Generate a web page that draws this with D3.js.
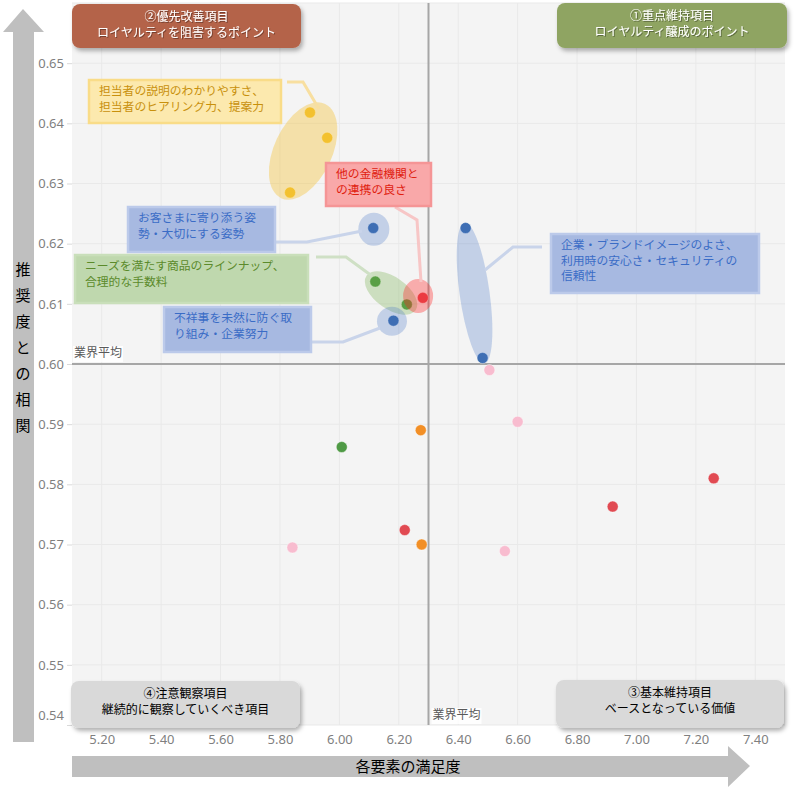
<!DOCTYPE html>
<html>
<head>
<meta charset="utf-8">
<script src="https://cdn.jsdelivr.net/npm/d3@7"></script>
<style>
body { margin: 0; background: #fff; }
text { font-family: "Noto Sans CJK JP", "Noto Sans", sans-serif; }
</style>
</head>
<body>
<svg id="chart" width="801" height="795"></svg>
<script>
// satisfaction (x) vs correlation with recommendation (y)

var xTicks = [5.2, 5.4, 5.6, 5.8, 6.0, 6.2, 6.4, 6.6, 6.8, 7.0, 7.2, 7.4];
var yTicks = [0.54, 0.55, 0.56, 0.57, 0.58, 0.59, 0.60, 0.61, 0.62, 0.63, 0.64, 0.65];
var avgX = 6.30, avgY = 0.60; // industry averages

var yellowPts = [[5.901, 0.6418], [5.959, 0.6376], [5.834, 0.6285]];
var redPts = [[6.281, 0.6110], [6.220, 0.5724], [6.920, 0.5763], [7.260, 0.5810]];
var greenPts = [[6.121, 0.6137], [6.227, 0.6099], [6.008, 0.5862]];
var bluePts = [[6.114, 0.6226], [6.182, 0.6072], [6.425, 0.6226], [6.482, 0.6010]];
var orangePts = [[6.274, 0.5890], [6.277, 0.5700]];
var pinkPts = [[6.505, 0.5990], [6.600, 0.5904], [6.557, 0.5689], [5.842, 0.5695]];

var quadTitles = [
	["②優先改善項目", "ロイヤルティを阻害するポイント"],
	["①重点維持項目", "ロイヤルティ醸成のポイント"],
	["④注意観察項目", "継続的に観察していくべき項目"],
	["③基本維持項目", "ベースとなっている価値"]
];
var noteTexts = [
	["担当者の説明のわかりやすさ、", "担当者のヒアリング力、提案力"],
	["他の金融機関と", "の連携の良さ"],
	["お客さまに寄り添う姿", "勢・大切にする姿勢"],
	["ニーズを満たす商品のラインナップ、", "合理的な手数料"],
	["不祥事を未然に防ぐ取", "り組み・企業努力"],
	["企業・ブランドイメージのよさ、", "利用時の安心さ・セキュリティの", "信頼性"]
];

var lPad = 72, tPad = 3, plotW = 713, plotH = 722;
var svg = d3.select("#chart");

var x = d3.scaleLinear().domain([5.1, 7.5]).range([lPad, lPad + plotW]);
var y = d3.scaleLinear().domain([0.54, 0.66]).range([tPad + plotH, tPad]);

var defs = svg.append("defs");
var sh = defs.append("filter").attr("id", "shadow")
	.attr("x", "-10%").attr("y", "-20%").attr("width", "125%").attr("height", "150%");
sh.append("feDropShadow").attr("dx", 2).attr("dy", 3).attr("stdDeviation", 2)
	.attr("flood-color", "#000").attr("flood-opacity", 0.3);
var tsh = defs.append("filter").attr("id", "tshadow");
tsh.append("feDropShadow").attr("dx", 1).attr("dy", 1).attr("stdDeviation", 0.6)
	.attr("flood-color", "#000").attr("flood-opacity", 0.35);

// plot background + grid
svg.append("rect")
	.attr("x", lPad).attr("y", tPad).attr("width", plotW).attr("height", plotH)
	.attr("fill", "#f4f4f4");

svg.append("g").selectAll("line").data(xTicks).enter().append("line")
	.attr("x1", function(d) { return x(d); }).attr("x2", function(d) { return x(d); })
	.attr("y1", tPad).attr("y2", tPad + plotH)
	.attr("stroke", "#e9e9e9").attr("stroke-width", 1);
svg.append("g").selectAll("line").data(yTicks.concat([0.66])).enter().append("line")
	.attr("y1", function(d) { return y(d); }).attr("y2", function(d) { return y(d); })
	.attr("x1", lPad).attr("x2", lPad + plotW)
	.attr("stroke", "#e9e9e9").attr("stroke-width", 1);

// axes
var yAxis = d3.axisLeft(y).tickValues(yTicks).tickSize(5).tickPadding(3)
	.tickFormat(d3.format(".2f"));
var gy = svg.append("g").attr("transform", "translate(" + lPad + ",0)").call(yAxis);
gy.select(".domain").remove();
gy.selectAll("line").attr("stroke", "#d9d9d9");
gy.selectAll("text").attr("fill", "#7f7f7f").style("font-size", "13px")
	.style("font-family", "'Noto Sans', sans-serif");
gy.selectAll(".tick").filter(function(d) { return d === 0.54; })
	.select("text").attr("dy", "-0.45em");

var xAxis = d3.axisBottom(x).tickValues(xTicks).tickSize(0).tickPadding(10)
	.tickFormat(d3.format(".2f"));
var gx = svg.append("g").attr("transform", "translate(0," + (tPad + plotH) + ")").call(xAxis);
gx.select(".domain").remove();
gx.selectAll("text").attr("fill", "#7f7f7f").style("font-size", "13px")
	.style("font-family", "'Noto Sans', sans-serif");

// average lines
svg.append("line")
	.attr("x1", lPad).attr("x2", lPad + plotW).attr("y1", y(avgY)).attr("y2", y(avgY))
	.attr("stroke", "#a6a6a6").attr("stroke-width", 2);
svg.append("line")
	.attr("x1", x(avgX)).attr("x2", x(avgX)).attr("y1", tPad).attr("y2", tPad + plotH)
	.attr("stroke", "#a6a6a6").attr("stroke-width", 2);

var avgLabel = function(px, py) {
	svg.append("rect").attr("x", px - 1).attr("y", py - 11).attr("width", 50).attr("height", 16)
		.attr("fill", "#fff").attr("opacity", 0.85);
	svg.append("text").attr("x", px).attr("y", py)
		.attr("fill", "#595959").style("font-size", "12px").text("業界平均");
};
avgLabel(lPad + 2, y(avgY) - 7);
avgLabel(x(avgX) + 4, tPad + plotH - 6);

// points
var drawPts = function(pts, color) {
	svg.append("g").selectAll("circle").data(pts).enter().append("circle")
		.attr("cx", function(d) { return x(d[0]); })
		.attr("cy", function(d) { return y(d[1]); })
		.attr("r", 5.5)
		.attr("fill", color)
		.attr("stroke", "#fff").attr("stroke-opacity", 0.5).attr("stroke-width", 0.8);
};
drawPts(pinkPts, "#f8bccf");
drawPts(orangePts, "#f28f26");
drawPts(redPts, "#e14a52");
drawPts(greenPts, "#4f9a45");
drawPts(bluePts, "#3c6dae");
drawPts(yellowPts, "#f3c230");

// highlight ellipses, centred in data units
var ellipses = [
	{cx: 5.878, cy: 0.6354, rx: 29, ry: 52, rot: 25, fill: "#f5c02f", op: 0.38},
	{cx: 6.116, cy: 0.6224, rx: 15.5, ry: 16.5, rot: 0, fill: "#4472c4", op: 0.28},
	{cx: 6.174, cy: 0.6118, rx: 30, ry: 16, rot: 35, fill: "#70ad47", op: 0.3},
	{cx: 6.265, cy: 0.6113, rx: 15, ry: 17, rot: 0, fill: "#ff2020", op: 0.34},
	{cx: 6.177, cy: 0.6071, rx: 15, ry: 14.5, rot: 0, fill: "#4472c4", op: 0.28},
	{cx: 6.455, cy: 0.6118, rx: 15, ry: 71, rot: -8, fill: "#4472c4", op: 0.28}
];
svg.append("g").selectAll("ellipse").data(ellipses).enter().append("ellipse")
	.attr("cx", 0).attr("cy", 0)
	.attr("rx", function(d) { return d.rx; })
	.attr("ry", function(d) { return d.ry; })
	.attr("transform", function(d) {
		return "translate(" + x(d.cx) + "," + y(d.cy) + ") rotate(" + d.rot + ")";
	})
	.attr("fill", function(d) { return d.fill; })
	.attr("fill-opacity", function(d) { return d.op; });

// callout boxes
var noteStyles = [
	{fill: "#fce9ae", stroke: "#f9dc88", text: "#c8900c", link: "#f8dfa0"},
	{fill: "#f9a8a9", stroke: "#f59596", text: "#e0200f", link: "#f7c6c6"},
	{fill: "#a7b9e1", stroke: "#bccaea", text: "#3a6cc6", link: "#c9d4ea"},
	{fill: "#bfd8ae", stroke: "#c9dfba", text: "#5b8a2b", link: "#cfe0c5"},
	{fill: "#a7b9e1", stroke: "#bccaea", text: "#3a6cc6", link: "#c9d4ea"},
	{fill: "#a7b9e1", stroke: "#bccaea", text: "#3a6cc6", link: "#c9d4ea"}
];
var noteBoxes = [
	{x: 89, y: 80, w: 192, h: 43, link: [[287, 82], [303, 82], [319, 109]]},
	{x: 326, y: 163, w: 105, h: 43, link: [[395, 207], [417, 220], [421, 282]]},
	{x: 128, y: 207, w: 147, h: 45, link: [[276, 242], [307, 242], [362, 231]]},
	{x: 75, y: 255, w: 233, h: 48, link: [[316, 257], [346, 257], [372, 276]]},
	{x: 164, y: 307, w: 147, h: 45, link: [[312, 342], [343, 342], [380, 328]]},
	{x: 551, y: 234, w: 208, h: 59, link: [[542, 247], [513, 247], [485, 270]]}
];

var lineGen = d3.line();
noteBoxes.forEach(function(b, i) {
	var st = noteStyles[i];
	svg.append("path").attr("d", lineGen(b.link))
		.attr("fill", "none").attr("stroke", st.link).attr("stroke-width", 3);
	svg.append("rect")
		.attr("x", b.x).attr("y", b.y).attr("width", b.w).attr("height", b.h)
		.attr("fill", st.fill).attr("stroke", st.stroke).attr("stroke-width", 2.5);
	svg.append("g").selectAll("text").data(noteTexts[i]).enter().append("text")
		.attr("x", b.x + 10)
		.attr("y", function(d, j) { return b.y + 15 + j * 15.5; })
		.attr("fill", st.text)
		.style("font-size", "11.8px")
		.text(function(d) { return d; });
});

// quadrant titles
var quadBoxes = [
	{x: 72, y: 4, w: 229, h: 44, fill: "#b4644a", color: "#fff"},
	{x: 557, y: 3, w: 230, h: 45, fill: "#8fa462", color: "#fff"},
	{x: 71, y: 681, w: 229, h: 47, fill: "#d9d9d9", color: "#000"},
	{x: 556, y: 680, w: 228, h: 48, fill: "#d9d9d9", color: "#000"}
];
quadBoxes.forEach(function(q, i) {
	svg.append("rect")
		.attr("x", q.x).attr("y", q.y).attr("width", q.w).attr("height", q.h)
		.attr("rx", 8).attr("fill", q.fill).attr("filter", "url(#shadow)");
	svg.append("g").selectAll("text").data(quadTitles[i]).enter().append("text")
		.attr("x", q.x + q.w / 2)
		.attr("y", function(d, j) { return q.y + 17 + j * 16; })
		.attr("text-anchor", "middle")
		.attr("fill", q.color)
		.attr("filter", q.color === "#fff" ? "url(#tshadow)" : null)
		.style("font-size", "12px")
		.text(function(d) { return d; });
});

// axis arrows
var arrowCol = "#bfbfbf";
svg.append("path")
	.attr("d", "M13,742 L13,32 L3,32 L23,9 L44,32 L34,32 L34,742 Z")
	.attr("fill", arrowCol);
svg.append("path")
	.attr("d", "M72,756 L728,756 L728,746 L750,766 L728,787 L728,777 L72,777 Z")
	.attr("fill", arrowCol);

var yTitle = "推奨度との相関".split("");
svg.append("g").selectAll("text").data(yTitle).enter().append("text")
	.attr("x", 23)
	.attr("y", function(d, i) { return 275 + i * 26; })
	.attr("text-anchor", "middle")
	.attr("fill", "#000")
	.style("font-size", "15px")
	.text(function(d) { return d; });

svg.append("text")
	.attr("x", 408).attr("y", 772)
	.attr("text-anchor", "middle")
	.attr("fill", "#000")
	.style("font-size", "15px")
	.text("各要素の満足度");
</script>
</body>
</html>
